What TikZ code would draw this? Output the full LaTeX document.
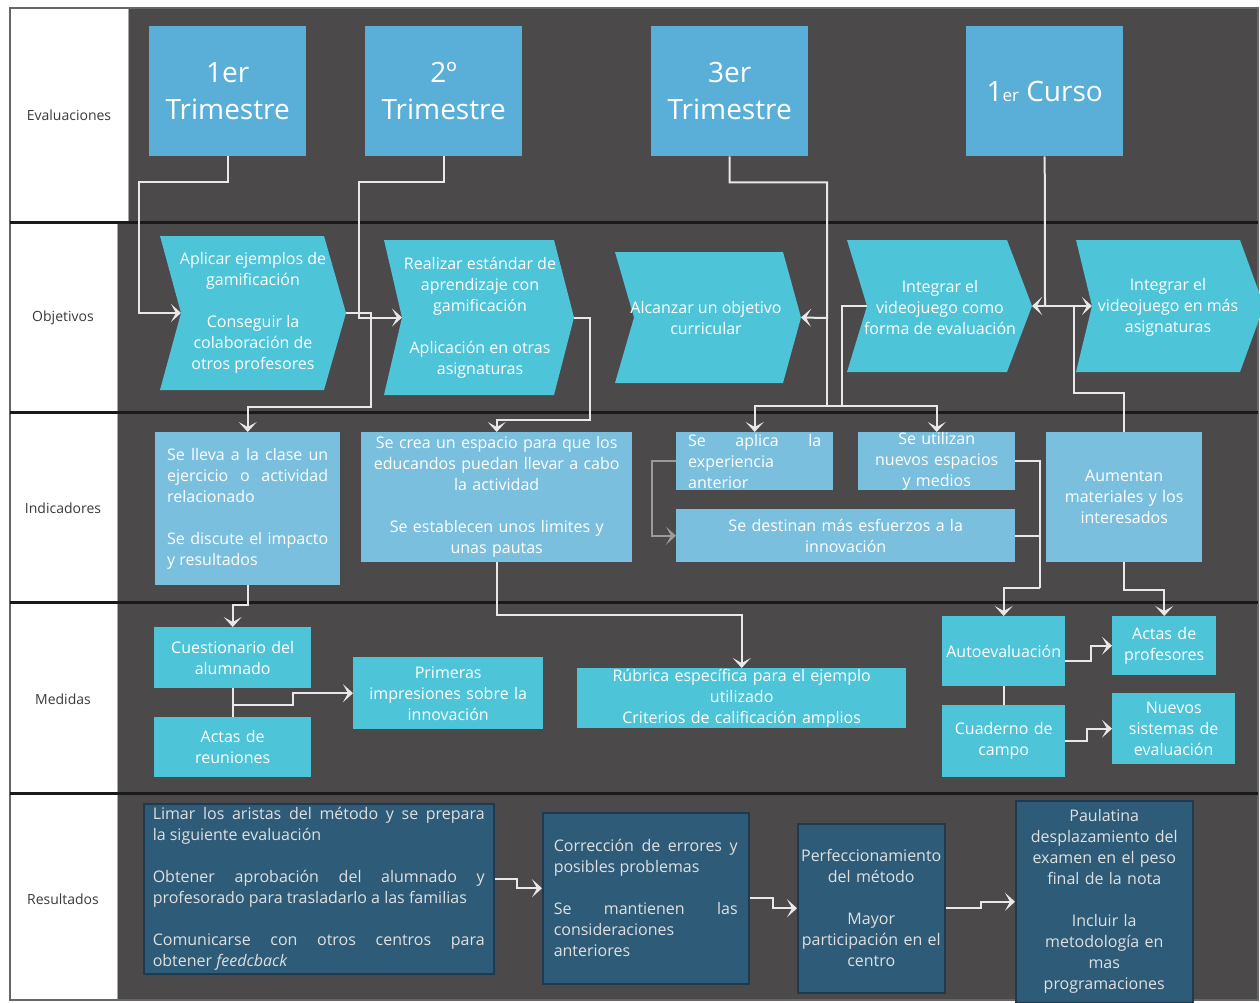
\documentclass[tikz,border=0pt]{standalone}
\usepackage{fontspec}
\setmainfont{Open Sans}
\usepackage{xcolor}
\usetikzlibrary{arrows.meta}

\definecolor{fondo}{HTML}{4B494A}
\definecolor{azulev}{HTML}{5AAFD8}
\definecolor{cian}{HTML}{4DC4D8}
\definecolor{azulind}{HTML}{7ABFDD}
\definecolor{azulres}{HTML}{2D5B78}
\definecolor{bordres}{HTML}{1D3A50}
\definecolor{linea}{HTML}{E8E8E8}
\definecolor{lineagris}{HTML}{9A9A9A}
\definecolor{etiqueta}{HTML}{3A3A3A}
\definecolor{separa}{HTML}{1A1A1A}

\hyphenpenalty=10000

\begin{document}
\begin{tikzpicture}[x=1pt, y=-1pt,
    caja/.style={anchor=north west, inner ysep=0pt, text=white, font=\fontsize{16}{21}\selectfont},
    evcaja/.style={caja, fill=azulev, minimum width=157pt, minimum height=130pt, inner xsep=0pt, align=center, font=\fontsize{28}{37}\selectfont},
    indcaja/.style={caja, fill=azulind},
    medcaja/.style={caja, fill=cian},
    rescaja/.style={caja, fill=azulres, draw=bordres, line width=1.5pt, text=white!88!black},
    objtexto/.style={text=white, align=center, inner sep=0pt, font=\fontsize{16}{21}\selectfont},
    objfondo/.style={fill=cian},
    etiq/.style={text=etiqueta, font=\fontsize{14}{17}\selectfont},
    celda/.style={fill=white, draw=gray!70, line width=1pt},
    separador/.style={draw=separa, line width=3pt},
    flecha/.style={draw=linea, line width=2pt, -{Stealth[length=10pt, width=18pt, inset=5pt]}},
    cable/.style={draw=linea, line width=2pt}
  ]
        \useasboundingbox (0,0) rectangle (1260,1003);
        \fill[white] (0,0) rectangle (1260,1003);

        % Fondo de las filas
        \fill[fondo] (128,8) rectangle (1258,222);
        \fill[fondo] (117,222) rectangle (1258,1000);
        \draw[celda] (10,8) rectangle (128,222);
        \draw[celda] (10,222) rectangle (117,412);
        \draw[celda] (10,412) rectangle (117,602);
        \draw[celda] (10,602) rectangle (117,793);
        \draw[celda] (10,793) rectangle (117,1000);
        \draw[gray!80!black, line width=1.5pt] (10,8) rectangle (1258,1000);
        \draw[separador] (10,222) -- (1258,222);
        \draw[separador] (10,412) -- (1258,412);
        \draw[separador] (10,602) -- (1258,602);
        \draw[separador] (10,793) -- (1258,793);

        \node[etiq] (lbev) at (69,115) {Evaluaciones};
        \node[etiq] (lbob) at (63,318) {Objetivos};
        \node[etiq] (lbin) at (63,508) {Indicadores};
        \node[etiq] (lbme) at (63,699) {Medidas};
        \node[etiq] (lbre) at (63,899) {Resultados};

        % Evaluaciones
        \node[evcaja] (ev1) at (149,26) {1er\\Trimestre};
        \node[evcaja] (ev2) at (365,26) {2º\\Trimestre};
        \node[evcaja] (ev3) at (651,26) {3er\\Trimestre};
        \node[evcaja] (ev4) at (966,26) {1{\fontsize{17}{17}\selectfont er} Curso};

        % Objetivos
        \fill[objfondo] (160,236) -- (324,236) -- (346,313) coordinate (ob1t)
          -- (324,390) -- (160,390) -- (181,313) coordinate (ob1n) -- cycle;
        \fill[objfondo] (384,240) -- (554,240) -- (574,317.5) coordinate (ob2t)
          -- (554,395) -- (384,395) -- (402,317.5) coordinate (ob2n) -- cycle;
        \fill[objfondo] (615,252) -- (783,252) -- (801,317.5) coordinate (ob3t)
          -- (783,383) -- (615,383) -- (634,317.5) coordinate (ob3n) -- cycle;
        \fill[objfondo] (847,240) -- (1007,240) -- (1032,306) coordinate (ob4t)
          -- (1007,372) -- (847,372) -- (867,306) coordinate (ob4n) -- cycle;
        \fill[objfondo] (1076,240) -- (1240,240) -- (1264,306) coordinate (ob5t)
          -- (1240,372) -- (1076,372) -- (1092,306) coordinate (ob5n) -- cycle;

        \node[objtexto] (ob1) at (253,313) {Aplicar ejemplos de\\gamificación\\[21pt]Conseguir la\\colaboración de\\otros profesores};
        \node[objtexto] (ob2) at (480,317.5) {Realizar estándar de\\aprendizaje con\\gamificación\\[21pt]Aplicación en otras\\asignaturas};
        \node[objtexto] (ob3) at (706,318) {Alcanzar un objetivo\\curricular};
        \node[objtexto] (ob4) at (940,307) {Integrar el\\videojuego como\\forma de evaluación};
        \node[objtexto] (ob5) at (1168,307) {Integrar el\\videojuego en más\\asignaturas};

        % Indicadores
        \node[indcaja, text width=161pt, inner xsep=12pt, minimum height=153pt, align=justify] (in1) at (155,432)
          {Se lleva a la clase un\linebreak ejercicio o actividad\linebreak relacionado\\[21pt]Se discute el impacto\linebreak y resultados};
        \node[indcaja, text width=263pt, inner xsep=4pt, minimum height=130pt, align=center] (in2) at (361,432)
          {Se crea un espacio para que los\\educandos puedan llevar a cabo\\la actividad\\[21pt]Se establecen unos limites y\\unas pautas};
        \node[indcaja, text width=133pt, inner xsep=12pt, minimum height=58pt, align=justify] (in3) at (676,432)
          {Se aplica la\linebreak experiencia\\anterior};
        \node[indcaja, text width=149pt, inner xsep=4pt, minimum height=58pt, align=center] (in4) at (858,432)
          {Se utilizan\\nuevos espacios\\y medios};
        \node[indcaja, text width=331pt, inner xsep=4pt, minimum height=53pt, align=center] (in5) at (676,509)
          {Se destinan más esfuerzos a la\\innovación};
        \node[indcaja, text width=148pt, inner xsep=4pt, minimum height=130pt, align=center] (in6) at (1046,432)
          {Aumentan\\materiales y los\\interesados};

        % Medidas
        \node[medcaja, text width=149pt, inner xsep=4pt, minimum height=61pt, align=center] (me1) at (154,627) {Cuestionario del\\alumnado};
        \node[medcaja, text width=149pt, inner xsep=4pt, minimum height=60pt, align=center] (me2) at (154,717) {Actas de\\reuniones};
        \node[medcaja, text width=182pt, inner xsep=4pt, minimum height=72pt, align=center] (me3) at (353,657) {Primeras\\impresiones sobre la\\innovación};
        \node[medcaja, text width=321pt, inner xsep=4pt, minimum height=60pt, align=center] (me4) at (577,668)
          {Rúbrica específica para el ejemplo\\utilizado\\Criterios de calificación amplios};
        \node[medcaja, text width=123pt, inner xsep=0pt, minimum height=70pt, align=center] (me5) at (942,616) {Autoevaluación};
        \node[medcaja, text width=115pt, inner xsep=4pt, minimum height=72pt, align=center] (me6) at (942,705) {Cuaderno de\\campo};
        \node[medcaja, text width=96pt, inner xsep=4pt, minimum height=59pt, align=center] (me7) at (1112,616) {Actas de\\profesores};
        \node[medcaja, text width=115pt, inner xsep=4pt, minimum height=71pt, align=center] (me8) at (1112,693) {Nuevos\\sistemas de\\evaluación};

        % Resultados
        \node[rescaja, text width=332pt, inner xsep=9pt, minimum height=170pt, align=justify] (re1) at (143,803)
          {Limar los aristas del método y se prepara\linebreak la siguiente evaluación\\[21pt]Obtener aprobación del alumnado y\linebreak \mbox{profesorado para trasladarlo a las familias}\\[21pt]Comunicarse con otros centros para\linebreak obtener \textit{feedcback}};
        \node[rescaja, text width=184pt, inner xsep=11pt, minimum height=171pt, align=justify] (re2) at (542,812)
          {Corrección de errores y\linebreak posibles problemas\\[21pt]Se mantienen las\linebreak consideraciones\\anteriores};
        \node[rescaja, text width=147pt, inner xsep=0pt, minimum height=169pt, align=center] (re3) at (797,823)
          {Perfeccionamiento\\del método\\[21pt]Mayor\\participación en el\\centro};
        \node[rescaja, text width=169pt, inner xsep=4pt, minimum height=202pt, align=center] (re4) at (1015,800)
          {Paulatina\\desplazamiento del\\examen en el peso\\final de la nota\\[21pt]Incluir la\\metodología en\\mas\\programaciones};

        % Conexiones
        \coordinate (j3) at (827,318);
        \coordinate (j3b) at (827,406);
        \coordinate (j4) at (1045,306);
        \coordinate (j6) at (1040,588);
        \coordinate (j7) at (232.5,705);

        \draw[flecha] (ev1.south) -- ++(0,26) -| (139,313) -- (ob1n);
        \draw[flecha] (ev2.south) -- ++(0,26) -| (359,317.5) -- (ob2n);
        \draw[flecha] (ob1t) -- (371,313) -- (371,407) -| (in1.north);
        \draw[flecha] (ob2t) -- (590,317.5) -- (590,420) -| (in2.north);
        \draw[flecha] (ev3.south) -- ++(0,26) -| (j3) -- (ob3t);
        \draw[flecha] (j3) -- (j3b) -| (in3.north);
        \draw[flecha] (j3b) -| (in4.north);
        \draw[cable] (j3b) -| (842,306) -- (ob4n);
        \draw[cable] (ev4.south) -- (j4);
        \draw[flecha] (j4) -- (ob4t);
        \draw[flecha] (j4) -- (ob5n);
        \draw[cable] (in6.north) |- (1074,393) -- (1074,306);

        \draw[flecha, draw=lineagris] (in3.west) -- ++(-24,0) |- (in5.west);
        \draw[cable] (in4.east) -| (j6);
        \draw[cable] (in5.east) -- (in5.east -| j6);
        \draw[flecha] (j6) -| (me5.north);
        \draw[flecha] (in6.south) -- ++(0,28) -| (me7.north);
        \draw[flecha] (in1.south) -- ++(0,20) -| (me1.north);
        \draw[flecha] (in2.south) -- ++(0,53) -| (me4.north);

        \draw[cable] (me1.south) -- (me2.north);
        \draw[flecha] (j7) -- ++(60,0) |- (me3.west);
        \draw[cable] (me5.south) -- (me6.north);
        \draw[flecha] ([yshift=-10pt]me5.east) -- ++(26,0) |- (me7.west);
        \draw[flecha] (me6.east) -- ++(22,0) |- (me8.west);

        \draw[flecha] ([yshift=10pt]re1.east) -- ++(22,0) |- ([yshift=10pt]re2.west);
        \draw[flecha] (re2.east) -- ++(23,0) |- (re3.west);
        \draw[flecha] (re3.east) -- ++(35,0) |- (re4.west);
    \end{tikzpicture}
\end{document}
